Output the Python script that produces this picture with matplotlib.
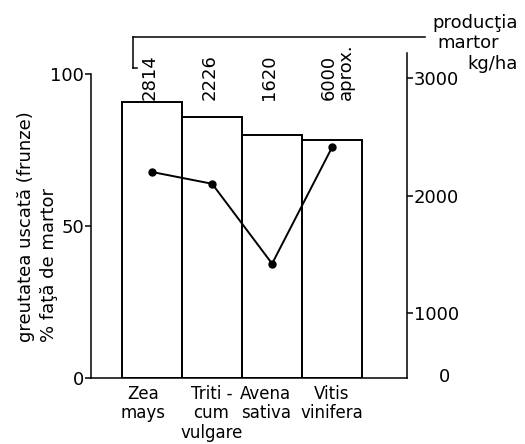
import matplotlib.pyplot as plt
import matplotlib.transforms as mtransforms
from matplotlib.lines import Line2D

# Donnees
specii = ["Zea\nmays", "Triti -\ncum\nvulgare", "Avena\nsativa", "Vitis\nvinifera"]
greutate_pct = [91, 86, 80, 78.5]          # % fata de martor (barres)
productie_kg = [2200, 2100, 1420, 2410]    # kg/ha (ligne)
productie_martor = ["2814", "2226", "1620", "6000\naprox."]
ticks_stanga = [0, 50, 100]
ticks_dreapta = [1000, 2000, 3000]

plt.rcParams['font.family'] = 'DejaVu Sans'
plt.rcParams['font.size'] = 13

W, H = 525, 444
fig = plt.figure(figsize=(W / 100, H / 100), dpi=100)
ax = fig.add_axes([91 / W, 66 / H, 316 / W, 325 / H])

x = list(range(len(specii)))

# Barres contigues, blanches a bord noir
ax.bar(x, greutate_pct, width=1.0, color='white', edgecolor='black', linewidth=1.4)
ax.set_xlim(-1.02, 4.25)
ax.set_ylim(0, 107)
ax.set_yticks(ticks_stanga)
ax.set_xticks(x)
ax.set_xticklabels(specii, linespacing=1.1, ha='left', multialignment='center', fontsize=12)
ax.tick_params(axis='x', length=0, pad=5)
ax.tick_params(axis='y', length=4, width=1.1, pad=1, direction='out')
# noms d'especes calés sur le bord gauche des barres
decal = mtransforms.ScaledTranslation(-32 / 100, 0, fig.dpi_scale_trans)
for lab in ax.get_xticklabels():
    lab.set_transform(lab.get_transform() + decal)
for s in ['top', 'right']:
    ax.spines[s].set_visible(False)
ax.spines['left'].set_bounds(0, 100)
ax.spines['left'].set_linewidth(1.1)
ax.spines['bottom'].set_linewidth(1.1)

# Axe droit: production (kg/ha)
ax2 = ax.twinx()
ax2.plot(x, productie_kg, color='black', linewidth=1.4, marker='o', markersize=5)
ax2.set_ylim(447, 3213)
ax2.set_yticks(ticks_dreapta)
ax2.tick_params(axis='y', length=4, width=1.1, pad=1, direction='out')
for s in ['top', 'left', 'bottom']:
    ax2.spines[s].set_visible(False)
ax2.spines['right'].set_linewidth(1.1)
fig.text(444 / W, 1 - 377 / H, "0", ha='center', va='center')

# Production du temoin, ecrite verticalement au-dessus des barres
trans = mtransforms.blended_transform_factory(ax.transData, fig.transFigure)
for xi, txt in zip(x, productie_martor):
    ax.text(xi - 0.2, 1 - 100 / H, txt, rotation=90, rotation_mode='anchor',
            ha='left', va='top', multialignment='left',
            transform=trans, linespacing=0.9)

# Accolade du haut
def px(xp, yp):
    return xp / W, 1 - yp / H

for (x0, y0), (x1, y1) in [((133, 37), (425, 37)), ((133, 37), (133, 68)), ((133, 68), (137, 68))]:
    a, b = px(x0, y0)
    c, d = px(x1, y1)
    fig.add_artist(Line2D([a, c], [b, d], color='black', linewidth=1.1))

fig.text(518 / W, 1 - 23 / H, "producţia", ha='right', va='center')
fig.text(468 / W, 1 - 43 / H, "martor", ha='center', va='center')
fig.text(518 / W, 1 - 64 / H, "kg/ha", ha='right', va='center')

# Titres de l'axe gauche
fig.text(26 / W, 1 - 342 / H, "greutatea uscată (frunze)", rotation=90, ha='center', va='bottom')
fig.text(49 / W, 1 - 342 / H, "% faţă de martor", rotation=90, ha='center', va='bottom')

fig.savefig("out.png", dpi=100)
